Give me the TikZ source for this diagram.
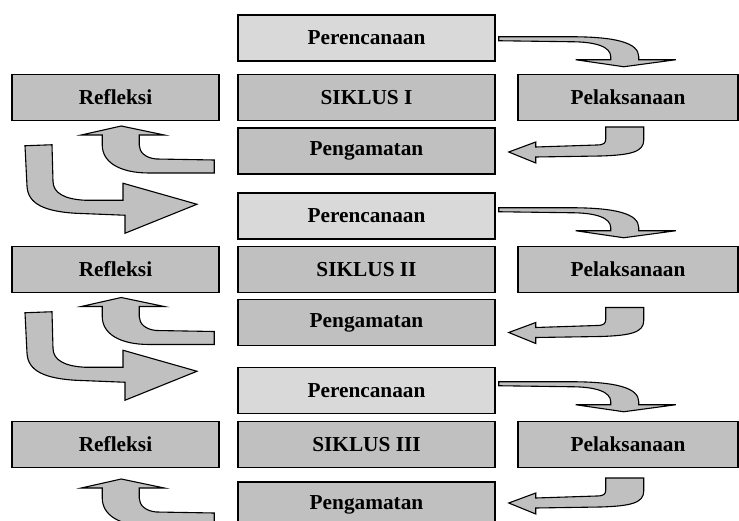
\documentclass[tikz,border=0pt]{standalone}
\usepackage{fontspec}
\setmainfont{Liberation Serif}
\usetikzlibrary{calc}
\definecolor{boxgray}{RGB}{192,192,192}
\definecolor{plangray}{RGB}{217,217,217}
\definecolor{arrowgray}{RGB}{192,192,192}
\tikzset{
  stagebox/.style 2 args={draw=black, line width=1.5pt, fill=boxgray,
    minimum width=#1pt, minimum height=#2pt, inner sep=0pt,
    font=\fontsize{21.3}{24}\selectfont\bfseries},
  planbox/.style 2 args={stagebox={#1}{#2}, fill=plangray},
  blockarrow/.style={draw=black, line width=1.1pt, fill=arrowgray, line join=miter},
  % Perencanaan -> Pelaksanaan (origin: plan.east |- pelaksanaan.north)
  arrowplan/.pic={
    \draw[blockarrow] (3,-37) -- (75,-37) .. controls (120,-37) and (143,-31) .. (143,-17)
      -- (143,-14) -- (180,-14) -- (128,-7) -- (80,-14) -- (115,-14) -- (115,-17)
      .. controls (115,-27) and (100,-32) .. (75,-32) -- (3,-33) -- cycle;
  },
  % Pelaksanaan -> Pengamatan (origin: pengamatan.east)
  arrowact/.pic={
    \draw[blockarrow] (110,-24) -- (148,-24) -- (148,-11)
      .. controls (148,1) and (135,4) .. (105,5) -- (40,6) -- (40,12) -- (13,1)
      -- (40,-9) -- (40,-4) -- (101,-6) .. controls (108,-6) and (110,-8) .. (110,-12) -- cycle;
  },
  % Pengamatan -> Refleksi (origin: pengamatan.west)
  arrowobs/.pic={
    \draw[blockarrow] (-23,9) -- (-81,8) .. controls (-92,7) and (-98,1) .. (-98,-6)
      -- (-98,-16) -- (-73,-16) -- (-116,-25) -- (-156,-16) -- (-135,-16) -- (-135,-6)
      .. controls (-135,11) and (-118,22) .. (-88,22) -- (-23,22) -- cycle;
  },
  % Refleksi -> next Perencanaan (origin: refleksi.south)
  arrowref/.pic={
    \draw[blockarrow] (-90.5,24.5) -- (-88.5,65) .. controls (-87.5,83) and (-70.5,90) .. (-40.5,92)
      -- (9.5,94) -- (9.5,112) -- (81.5,83) -- (7.5,62) -- (7.5,79) -- (-30.5,79)
      .. controls (-50.5,78) and (-62.5,72) .. (-62.5,60) -- (-63.5,23.5) -- cycle;
  }
}
\begin{document}
\begin{tikzpicture}[x=1pt,y=-1pt]
\useasboundingbox (0,0) rectangle (739,521);
% cycle 1
\node[planbox={257}{46}] (p1) at (366.5,38) {Perencanaan};
\node[stagebox={207}{46}] (r1) at (115.5,97.5) {Refleksi};
\node[stagebox={257}{46}] (s1) at (366.5,97.5) {SIKLUS I};
\node[stagebox={220}{46}] (l1) at (628,97.5) {Pelaksanaan};
\node[stagebox={257}{46}] (g1) at (366.5,151) {Pengamatan};
% cycle 2
\node[planbox={257}{46}] (p2) at (366.5,216) {Perencanaan};
\node[stagebox={207}{46}] (r2) at (115.5,269.5) {Refleksi};
\node[stagebox={257}{46}] (s2) at (366.5,269.5) {SIKLUS II};
\node[stagebox={220}{46}] (l2) at (628,269.5) {Pelaksanaan};
\node[stagebox={257}{46}] (g2) at (366.5,322.5) {Pengamatan};
% cycle 3
\node[planbox={257}{46}] (p3) at (366.5,390.5) {Perencanaan};
\node[stagebox={207}{46}] (r3) at (115.5,444.5) {Refleksi};
\node[stagebox={257}{46}] (s3) at (366.5,444.5) {SIKLUS III};
\node[stagebox={220}{46}] (l3) at (628,444.5) {Pelaksanaan};
\node[stagebox={257}{46}] (g3) at (366.5,505) {Pengamatan};
% arrows
\pic at (p1.east |- l1.north) {arrowplan};
\pic at ($(p2.east |- l2.north)+(0,-1)$) {arrowplan};
\pic at ($(p3.east |- l3.north)+(0,-2)$) {arrowplan};
\pic at (g1.east) {arrowact};
\pic at ($(g2.east)+(0,9)$) {arrowact};
\pic at ($(g3.east)+(0,-3)$) {arrowact};
\pic at (g1.west) {arrowobs};
\pic at (g2.west) {arrowobs};
\pic at ($(g3.west)+(0,-1)$) {arrowobs};
\pic at (r1.south) {arrowref};
\pic at ($(r2.south)+(0,-5)$) {arrowref};
\end{tikzpicture}
\end{document}
